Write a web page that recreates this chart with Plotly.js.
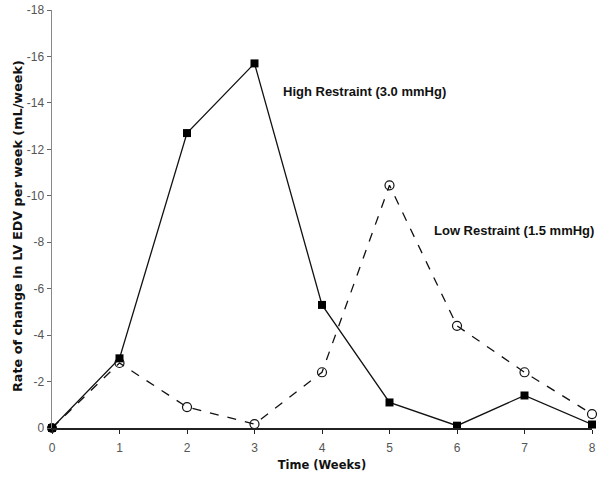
<!DOCTYPE html>
<html><head><meta charset="utf-8">
<script src="https://cdn.plot.ly/plotly-3.0.1.min.js"></script>
<style>html,body{margin:0;padding:0;background:#fff}#chart{width:601px;height:479px}</style>
</head><body><div id="chart"></div>
<script>
const weeks = [0,1,2,3,4,5,6,7,8];
const highRestraint = [0,-3.0,-12.7,-15.7,-5.3,-1.1,-0.1,-1.4,-0.15];
const lowRestraint = [0,-2.8,-0.9,-0.17,-2.4,-10.45,-4.4,-2.4,-0.6];
const yTicks = [0,-2,-4,-6,-8,-10,-12,-14,-16,-18];
const xTicks = [0,1,2,3,4,5,6,7,8];

const titleFont = 'DejaVu Sans, Verdana, sans-serif';
const traces = [
  {x: weeks, y: lowRestraint, mode:'lines+markers', cliponaxis:false,
   line:{color:'#111', width:1.3, dash:'dash'},
   marker:{symbol:'circle-open', size:9, color:'#111', line:{width:1.2}}},
  {x: weeks, y: highRestraint, mode:'lines+markers', cliponaxis:false,
   line:{color:'#111', width:1.3},
   marker:{symbol:'square', size:8, color:'#000'}}
];
const layout = {
  width:601, height:479, showlegend:false,
  paper_bgcolor:'#fff', plot_bgcolor:'#fff',
  margin:{l:52, r:9, t:10, b:51},
  font:{family:'Arial, Liberation Sans, sans-serif', color:'#555', size:12},
  xaxis:{range:[0,8], tickvals:xTicks, ticktext:xTicks.map(String), showgrid:false, zeroline:false,
    showline:true, linecolor:'#222', linewidth:1.5, ticks:'outside', ticklen:4, tickcolor:'#222',
    ticklabelstandoff:4,
    tickfont:{size:12, color:'#555', family:'Arial, Liberation Sans, sans-serif'},
    title:{text:'Time (Weeks)', font:{size:11.5, color:'#111', family:titleFont, weight:'bold'}, standoff:7}},
  yaxis:{range:[0,-18], tickvals:yTicks, ticktext:yTicks.map(String), showgrid:false, zeroline:false,
    showline:true, linecolor:'#888', linewidth:1.5, ticks:'outside', ticklen:4, tickcolor:'#666',
    tickfont:{size:12, color:'#555', family:'Arial, Liberation Sans, sans-serif'}},
  annotations:[
    {xref:'paper', yref:'paper', x:0, y:0.483, xshift:-35, xanchor:'center', yanchor:'middle',
     textangle:-90, showarrow:false,
     text:'<b>Rate of change in LV EDV per week (mL/week)</b>', font:{size:12.8, color:'#111', family:titleFont}},
    {x:3.39, y:-14.5, xref:'x', yref:'y', xanchor:'left', yanchor:'middle', showarrow:false,
     text:'<b>High Restraint (3.0 mmHg)</b>', font:{size:13, color:'#111', family:'Arial, Liberation Sans, sans-serif'}},
    {x:5.63, y:-8.5, xref:'x', yref:'y', xanchor:'left', yanchor:'middle', showarrow:false,
     text:'<b>Low Restraint (1.5 mmHg)</b>', font:{size:13, color:'#111', family:'Arial, Liberation Sans, sans-serif'}}
  ]
};
Plotly.newPlot('chart', traces, layout, {displayModeBar:false, staticPlot:true});
</script></body></html>
